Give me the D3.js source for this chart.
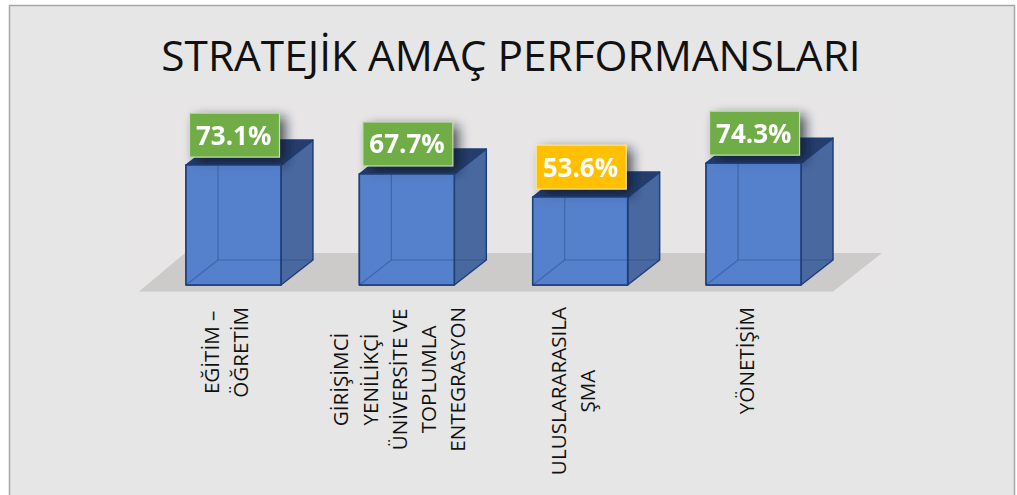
<!DOCTYPE html>
<html><head><meta charset="utf-8">
<script src="https://cdn.jsdelivr.net/npm/d3@7"></script>
<style>
html,body{margin:0;padding:0;background:#fff;overflow:hidden}
svg{display:block}
text{font-family:"Open Sans",sans-serif}
</style></head><body>
<script>
const titleText = "STRATEJİK AMAÇ PERFORMANSLARI";
const categories = ["EĞİTİM – ÖĞRETİM","GİRİŞİMCİ YENİLİKÇİ ÜNİVERSİTE VE TOPLUMLA ENTEGRASYON","ULUSLARARASILAŞMA","YÖNETİŞİM"];
const categoryLines = [["EĞİTİM –","ÖĞRETİM"],["GİRİŞİMCİ","YENİLİKÇİ","ÜNİVERSİTE VE","TOPLUMLA","ENTEGRASYON"],["ULUSLARARASILA","ŞMA"],["YÖNETİŞİM"]];
const values = [73.1,67.7,53.6,74.3];
const labelColors = ["#70ad47","#70ad47","#ffc000","#70ad47"];

const W=1017,H=495;
const svg=d3.select("body").append("svg").attr("width",W).attr("height",H);
const defs=svg.append("defs");
const f=defs.append("filter").attr("id","sh").attr("x","-30%").attr("y","-40%").attr("width","170%").attr("height","190%");
f.append("feGaussianBlur").attr("stdDeviation",6);
const g0=defs.append("filter").attr("id","soft");
g0.append("feGaussianBlur").attr("stdDeviation",0.4);

svg.append("rect").attr("x",9.5).attr("y",5.5).attr("width",1005).attr("height",H).attr("fill","#e6e6e6").attr("stroke","#a6a6a6").attr("stroke-width",1.5);
svg.append("rect").attr("x",130).attr("y",100).attr("width",760).attr("height",192).attr("fill","#e7e5e5");

svg.append("text").attr("x",511).attr("y",71).attr("text-anchor","middle").attr("font-size",42.4).attr("fill","#111").text(titleText);

const x=d3.scaleBand().domain(categories).range([186,801]).paddingInner(0.4524).paddingOuter(0);
const y=d3.scaleLinear().domain([0,100]).range([285,121]);
const dx=32,dy=-25;

// floor
const floorPts=[[139,291.5],[185,253],[882,253],[833,291.5]];
svg.append("polygon").attr("points",floorPts.join(" ")).attr("fill","#cdcaca");

const edge="#1f3f78";
const bars=svg.selectAll("g.bar").data(categories).join("g").attr("class","bar").attr("filter","url(#soft)");
bars.each(function(c,i){
  const g=d3.select(this),l=x(c),r=l+x.bandwidth(),t=y(values[i]),b=y(0);
  const poly=(p,fill,op)=>g.append("polygon").attr("points",p.join(" ")).attr("fill",fill).attr("fill-opacity",op).attr("stroke",edge).attr("stroke-width",1.5).attr("stroke-linejoin","round");
  poly([[r,t],[r+dx,t+dy],[r+dx,b+dy],[r,b]],"#48689f",1);
  poly([[l,t],[r,t],[r+dx,t+dy],[l+dx,t+dy]],"#263e6c",1);
  poly([[l,t],[r,t],[r,b],[l,b]],"#5580cb",1);
  const lw=90,lh=44,lx=l+3.5,ly=t-52;
  // soft shadow of the value box on the cube top and the wall behind
  g.append("rect").attr("x",lx+6).attr("y",ly+4).attr("width",lw).attr("height",lh+2).attr("fill","#0a1428").attr("opacity",0.72).attr("filter","url(#sh)");
  // front face over the shadow, so only a hint of it survives under the top edge
  poly([[l,t],[r,t],[r,b],[l,b]],"#5580cb",0.8);
  const inner=[[l+dx,t,l+dx,b+dy],[l+dx,b+dy,r,b+dy],[l,b,l+dx,b+dy],[r,b+dy,r+dx,b+dy]];
  inner.forEach(s=>g.append("line").attr("x1",s[0]).attr("y1",s[1]).attr("x2",s[2]).attr("y2",s[3]).attr("stroke",edge).attr("stroke-opacity",.4).attr("stroke-width",1.2));
  g.append("rect").attr("x",lx).attr("y",ly).attr("width",lw).attr("height",lh).attr("fill",labelColors[i]).attr("stroke",i==2?"#ffe699":"#c5e0b4").attr("stroke-width",1.2);
  g.append("text").attr("x",lx+lw/2-0.8).attr("y",ly+lh/2+9.5).attr("text-anchor","middle").attr("font-size",26).attr("font-weight",700).attr("fill","#fff").text(d3.format(".1f")(values[i])+"%");
});

// category labels: rotated, lines centred on each other, block hung from the axis
const lineStep=29.3, labelTop=307;
categories.forEach((c,i)=>{
  const ls=categoryLines[i],cx=x(c)+x.bandwidth()/2;
  const nodes=ls.map(s=>svg.append("text").attr("text-anchor","middle").attr("font-size",20.6).attr("fill","#111").text(s));
  const maxLen=d3.max(nodes,n=>n.node().getComputedTextLength());
  nodes.forEach((n,j)=>{
    const px=cx+(j-(ls.length-1)/2)*lineStep;
    n.attr("transform",`translate(${px},${labelTop+maxLen/2}) rotate(-90)`);
  });
});
</script></body></html>
